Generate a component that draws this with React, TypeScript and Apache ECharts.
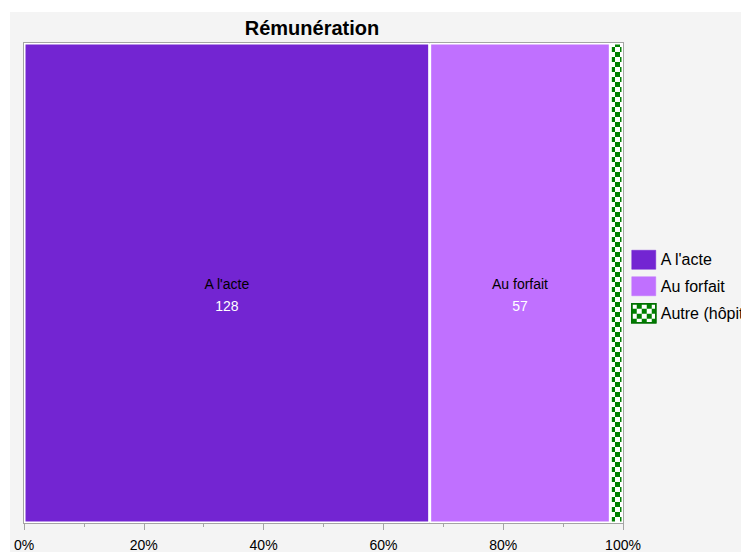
import React, { useEffect, useRef } from "react";
import * as echarts from "echarts";

const categories = ["A l'acte", "Au forfait", "Autre (hôpital)"];
const counts = [128, 57, 4];
const colors = ["#7325d2", "#c070ff", "#ffffff"];
const tickPercents = [0, 20, 40, 60, 80, 100];
const titleText = "Rémunération";

export default function App() {
  const ref = useRef<HTMLDivElement>(null);
  useEffect(() => {
    if (!ref.current) return;
    const chart = echarts.init(ref.current, null, { renderer: "svg" });
    const total = counts.reduce((a, b) => a + b, 0);
    const font = "'Liberation Sans', Arial, Helvetica, sans-serif";
    const checker = {
      symbol: "rect",
      symbolSize: 1,
      color: "#008000",
      backgroundColor: "#ffffff",
      dashArrayX: [[5, 5], [0, 5, 5, 0]],
      dashArrayY: [5, 0],
      rotation: 0,
    };
    const series = categories.map((name, i) => ({
      name,
      type: "bar",
      stack: "all",
      barWidth: "100%",
      data: [counts[i]],
      itemStyle: {
        color: colors[i],
        borderColor: "#ffffff",
        borderWidth: 1.5,
        ...(i === 2 ? { decal: checker } : {}),
      },
      label: {
        show: i < 2,
        position: "inside",
        offset: [0, 12],
        formatter: () => `{n|${name}}\n{v|${counts[i]}}`,
        rich: {
          n: { color: "#000", fontSize: 14, fontFamily: font, lineHeight: 22 },
          v: { color: "#fff", fontSize: 14, fontFamily: font, lineHeight: 22 },
        },
      },
    }));
    chart.setOption({
      animation: false,
      backgroundColor: "#f4f4f4",
      textStyle: { fontFamily: font },
      title: {
        text: titleText,
        left: 297,
        top: 1,
        textAlign: "center",
        textStyle: { fontSize: 20, fontWeight: "bold", color: "#000", fontFamily: font },
      },
      grid: {
        left: 14,
        right: 126,
        top: 31,
        bottom: 26,
        show: true,
        backgroundColor: "#ffffff",
        borderColor: "#a4a4a4",
        borderWidth: 2,
      },
      legend: {
        orient: "vertical",
        left: 621,
        top: 238,
        padding: 0,
        itemWidth: 24,
        itemHeight: 19,
        itemGap: 7,
        textStyle: { fontSize: 16, color: "#000", fontFamily: font },
        data: categories.map((name, i) => ({
          name,
          icon: "rect",
          itemStyle: {
            borderColor: i === 2 ? "#007000" : colors[i],
            borderWidth: i === 2 ? 1.5 : 0.5,
          },
        })),
      },
      xAxis: {
        type: "value",
        min: 0,
        max: total,
        interval: total * 0.2,
        axisLine: { show: true, lineStyle: { color: "#a4a4a4", width: 1 } },
        axisTick: { show: true, length: 7, lineStyle: { color: "#a4a4a4" } },
        minorTick: { show: true, splitNumber: 2, length: 4, lineStyle: { color: "#a4a4a4" } },
        splitLine: { show: false },
        axisLabel: {
          margin: 15,
          fontSize: 14,
          color: "#000",
          fontFamily: font,
          formatter: (v: number) => {
            const p = Math.round((v / total) * 100);
            return tickPercents.includes(p) ? `${p}%` : "";
          },
        },
      },
      yAxis: {
        type: "category",
        data: ["Rémunération"],
        show: false,
      },
      series,
    });
    return () => chart.dispose();
  }, []);
  return (
    <div
      ref={ref}
      style={{ width: 739, height: 540, marginLeft: 2, marginTop: 4 }}
    />
  );
}
